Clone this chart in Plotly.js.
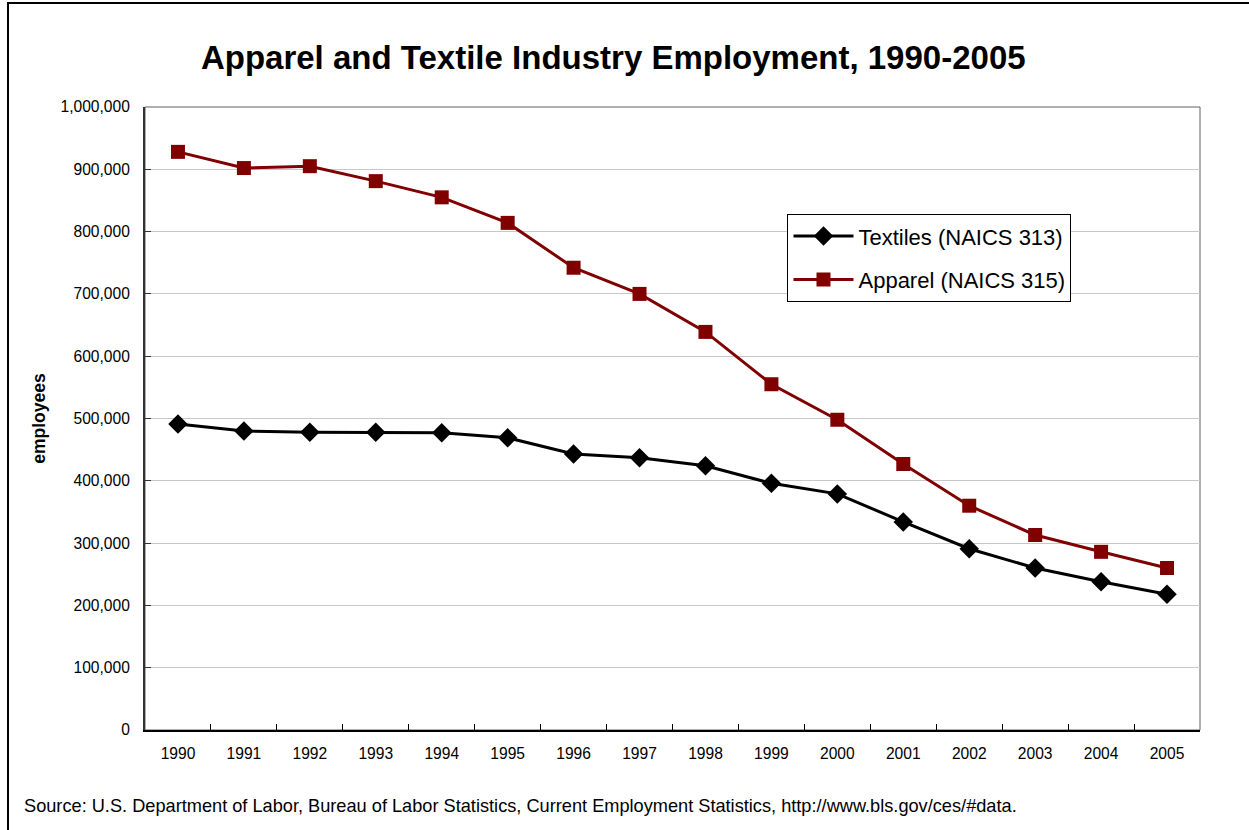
<!DOCTYPE html>
<html>
<head>
<meta charset="utf-8">
<script src="https://cdn.plot.ly/plotly-3.0.1.min.js"></script>
<style>
html,body{margin:0;padding:0;background:#fff;}
#wrap{position:relative;width:1249px;height:830px;overflow:hidden;}
#chart{width:1249px;height:830px;}
#frame{position:absolute;left:7px;top:2px;width:1245px;height:840px;border:2px solid #000;pointer-events:none;box-sizing:border-box;}
</style>
</head>
<body>
<div id="wrap"><div id="chart"></div><div id="frame"></div></div>
<script>
const years = ['1990','1991','1992','1993','1994','1995','1996','1997','1998','1999','2000','2001','2002','2003','2004','2005'];
const textiles = [491000,480000,478000,478000,477000,469000,443000,437000,424000,396000,379000,334000,291000,260000,238000,218000];
const apparel = [928000,902000,905000,881000,855000,814000,742000,700000,639000,555000,498000,427000,360000,313000,286000,260000];
const yTicks = [0,100000,200000,300000,400000,500000,600000,700000,800000,900000,1000000];
const yTickText = ['0','100,000','200,000','300,000','400,000','500,000','600,000','700,000','800,000','900,000','1,000,000'];

const font = '"Liberation Sans", Arial, sans-serif';

const traces = [
  {x: years, y: textiles, name: 'Textiles (NAICS 313)', type: 'scatter', mode: 'lines+markers',
   legendgroup: 'a',
   line: {color: '#000000', width: 3}, marker: {symbol: 'diamond', size: 15, color: '#000000'}},
  {x: years, y: apparel, name: 'Apparel (NAICS 315)', type: 'scatter', mode: 'lines+markers',
   legendgroup: 'b',
   line: {color: '#800000', width: 3}, marker: {symbol: 'square', size: 14, color: '#800000'}}
];

const layout = {
  width: 1249, height: 830,
  margin: {l: 145, r: 49, t: 107, b: 100},
  paper_bgcolor: '#ffffff', plot_bgcolor: '#ffffff',
  font: {family: font, size: 15.6, color: '#000'},
  title: {text: '<b>Apparel and Textile Industry Employment, 1990-2005</b>',
          font: {family: font, size: 33, color: '#000'}, x: 0.491, xanchor: 'center', y: 0.931, yanchor: 'middle'},
  xaxis: {type: 'category', tickson: 'boundaries', ticks: 'inside', ticklen: 6, tickcolor: '#000',
          showline: true, linecolor: '#000', linewidth: 2, showgrid: false, zeroline: false,
          ticklabelstandoff: 8,
          tickfont: {family: font, size: 15.6}, range: [-0.5, 15.5], fixedrange: true},
  yaxis: {range: [0, 1000000], tickvals: yTicks, ticktext: yTickText, ticks: 'inside', ticklen: 6,
          tickcolor: '#333', showline: true, linecolor: '#333', linewidth: 2,
          showgrid: true, gridcolor: '#c8c8c8', gridwidth: 1, zeroline: false,
          ticklabelstandoff: 10,
          tickfont: {family: font, size: 15.6},
          title: {text: '<b>employees</b>', font: {family: font, size: 17.5}, standoff: 10}},
  legend: {x: 0.609, y: 0.828, xanchor: 'left', yanchor: 'top', bgcolor: '#fff',
           bordercolor: '#000', borderwidth: 1, font: {family: font, size: 22},
           traceorder: 'grouped', tracegroupgap: 12, itemwidth: 60,
           entrywidth: 290, entrywidthmode: 'pixels'},
  shapes: [
    {type: 'rect', xref: 'paper', yref: 'paper', x0: 0, x1: 1, y0: 0, y1: 1,
     line: {color: '#606060', width: 1}, layer: 'below'}
  ],
  annotations: [
    {text: 'Source: U.S. Department of Labor, Bureau of Labor Statistics, Current Employment Statistics, http://www.bls.gov/ces/#data.',
     xref: 'paper', yref: 'paper', x: -0.117, y: -0.122, xanchor: 'left', yanchor: 'middle',
     showarrow: false, font: {family: font, size: 18.2, color: '#000'}}
  ]
};

Plotly.newPlot('chart', traces, layout, {staticPlot: true});
</script>
</body>
</html>
